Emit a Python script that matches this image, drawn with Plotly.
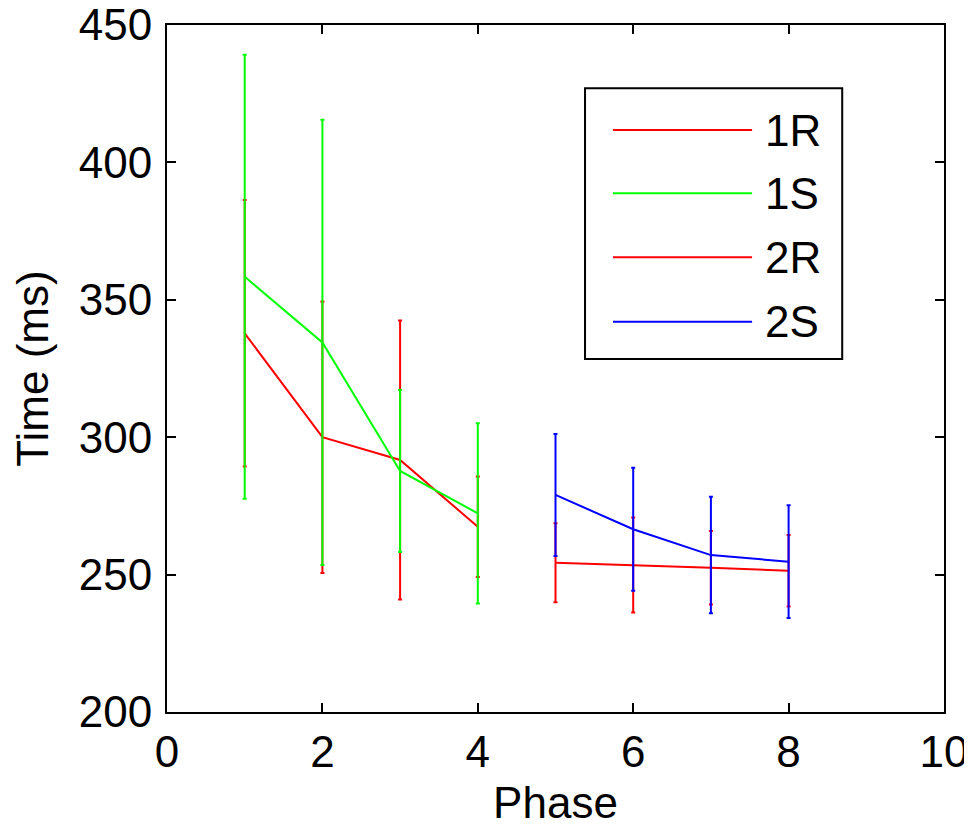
import plotly.graph_objects as go

series_names = ["1R", "1S", "2R", "2S"]
series_colors = ["#ff0000", "#00ff00", "#ff0000", "#0000ff"]
phase_1 = [1, 2, 3, 4]
phase_2 = [5, 6, 7, 8]
mean_1R = [337.8, 300.0, 291.7, 267.4]
err_1R = [48.5, 49.4, 50.8, 18.3]
mean_1S = [358.4, 334.5, 287.7, 272.3]
err_1S = [80.8, 81.0, 29.5, 32.8]
mean_2R = [254.3, 253.5, 252.5, 251.4]
err_2R = [14.4, 17.3, 13.4, 13.0]
mean_2S = [279.0, 266.5, 257.1, 254.7]
err_2S = [22.2, 22.4, 21.2, 20.5]
x_ticks = [0, 2, 4, 6, 8, 10]
y_ticks = [200, 250, 300, 350, 400, 450]

FONT = "Liberation Sans, Arial, sans-serif"
FS = 44
fig = go.Figure()
data = [(phase_1, mean_1R, err_1R), (phase_1, mean_1S, err_1S),
        (phase_2, mean_2R, err_2R), (phase_2, mean_2S, err_2S)]
for name, color, (xs, ys, es) in zip(series_names, series_colors, data):
    fig.add_trace(go.Scatter(
        x=xs, y=ys, name=name, mode="lines",
        line=dict(color=color, width=2),
        error_y=dict(type="data", array=es, visible=True, color=color,
                     thickness=2, width=2),
        showlegend=False))

# manual legend (MATLAB style)
fig.add_shape(type="rect", xref="paper", yref="paper", x0=0.538, x1=0.869,
              y0=0.514, y1=0.908, line=dict(color="black", width=2),
              fillcolor="white", layer="above")
legend_y = [0.847, 0.755, 0.662, 0.568]
for name, color, yc in zip(series_names, series_colors, legend_y):
    fig.add_shape(type="line", xref="paper", yref="paper",
                  x0=0.574, x1=0.753, y0=yc, y1=yc,
                  line=dict(color=color, width=2), layer="above")
    fig.add_annotation(xref="paper", yref="paper", x=0.767, y=yc,
                       text=name, showarrow=False, xanchor="left",
                       yanchor="middle", font=dict(size=FS, color="black", family=FONT))

axis_common = dict(showline=True, linecolor="black", linewidth=2, mirror="ticks",
                   ticks="inside", ticklen=9, tickwidth=1.5, tickcolor="black",
                   showgrid=False, zeroline=False, ticklabeloverflow="allow",
                   tickfont=dict(size=FS, color="black", family=FONT))
fig.update_xaxes(range=[0, 10], tickvals=x_ticks,
                 title=dict(text="Phase", font=dict(size=FS, color="black", family=FONT), standoff=14),
                 **axis_common)
fig.update_yaxes(range=[200, 450], tickvals=y_ticks, ticklabelstandoff=4,
                 title=dict(text="Time (ms)", font=dict(size=FS, color="black", family=FONT), standoff=24),
                 **axis_common)
fig.update_layout(width=964, height=819, paper_bgcolor="white", plot_bgcolor="white",
                  margin=dict(l=159, r=28, t=17, b=115, autoexpand=False),
                  font=dict(family=FONT, color="black"))
fig.write_html("out.html")
